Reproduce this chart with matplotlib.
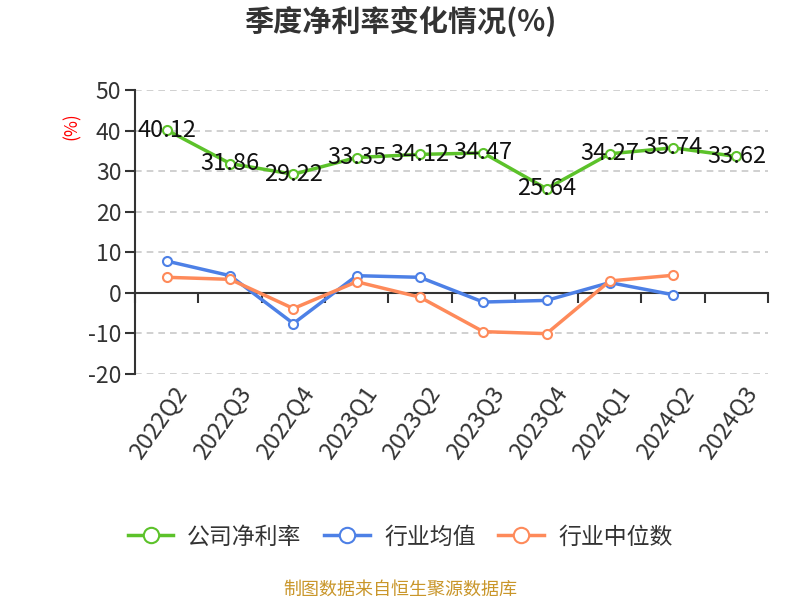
import numpy as np
import matplotlib
matplotlib.use("Agg")
import matplotlib.pyplot as plt

plt.rcParams['font.family'] = ['Noto Sans CJK SC', 'DejaVu Sans']
plt.rcParams['axes.unicode_minus'] = False

quarters = ['2022Q2', '2022Q3', '2022Q4', '2023Q1', '2023Q2',
            '2023Q3', '2023Q4', '2024Q1', '2024Q2', '2024Q3']
company = [40.12, 31.86, 29.22, 33.35, 34.12, 34.47, 25.64, 34.27, 35.74, 33.62]
ind_mean = [7.8, 4.2, -7.6, 4.2, 3.8, -2.3, -1.9, 2.5, -0.5, np.nan]
ind_median = [3.8, 3.3, -3.9, 2.7, -1.1, -9.6, -10.1, 2.9, 4.3, np.nan]

GREEN = '#5cc22a'
BLUE = '#4d80e6'
ORANGE = '#fe8a5a'

fig = plt.figure(figsize=(8, 6), dpi=100)
ax = fig.add_axes([0.169, 0.377, 0.791, 0.473])

x = np.arange(len(quarters))
mk = dict(marker='o', markersize=6.5, markerfacecolor='white', markeredgewidth=1.5, linewidth=2.5)
ax.plot(x, company, color=GREEN, label='公司净利率', zorder=5, **mk)
ax.plot(x, ind_mean, color=BLUE, label='行业均值', zorder=4, **mk)
ax.plot(x, ind_median, color=ORANGE, label='行业中位数', zorder=4, **mk)

for xi, v in zip(x, company):
    ax.text(xi, v, f'{v:.2f}', ha='center', va='center', fontsize=17, color='#111111', zorder=6)

ax.set_xlim(-0.5, len(quarters) - 0.5)
ax.set_ylim(-20, 50)
ax.set_yticks(range(-20, 51, 10))
for yv in range(-20, 51, 10):
    if yv != 0:
        ax.axhline(yv, color='#c8c8c8', linestyle=(0, (4, 3)), linewidth=1.2, zorder=0)

for s in ['top', 'right']:
    ax.spines[s].set_visible(False)
ax.spines['left'].set_color('#333333')
ax.spines['left'].set_linewidth(1.5)
ax.spines['bottom'].set_position(('data', 0))
ax.spines['bottom'].set_color('#333333')
ax.spines['bottom'].set_linewidth(1.5)

ax.set_xticks(np.arange(-0.5, len(quarters), 1.0))
ax.set_xticklabels([])
ax.tick_params(axis='x', length=7, width=1.5, color='#333333', direction='out')
ax.tick_params(axis='y', length=7, width=1.5, color='#333333', labelsize=16.5,
               labelcolor='#333333', pad=3)

sec = ax.secondary_xaxis('bottom')
sec.set_xticks(x + 0.1)
sec.set_xticklabels(quarters, rotation=55, ha='right', rotation_mode='anchor',
                    fontsize=17, color='#333333')
sec.tick_params(length=0, pad=6)
sec.spines['bottom'].set_visible(False)

fig.text(0.09, 0.79, '(%)', color='red', fontsize=12.5, rotation=90, ha='center', va='center')

fig.suptitle('季度净利率变化情况(%)', x=0.5, y=0.99, fontsize=21, fontweight='bold', color='#333333')

ax.legend(loc='center', bbox_to_anchor=(0.5, 0.105), bbox_transform=fig.transFigure,
          ncol=3, frameon=False, fontsize=16.5, handlelength=2.0, columnspacing=1.0,
          handletextpad=0.6, labelcolor='#333333', markerscale=1.7)

fig.text(0.5, 0.017, '制图数据来自恒生聚源数据库', color='#c9962a', fontsize=13, ha='center', va='center')

fig.savefig('out.png', dpi=100)
